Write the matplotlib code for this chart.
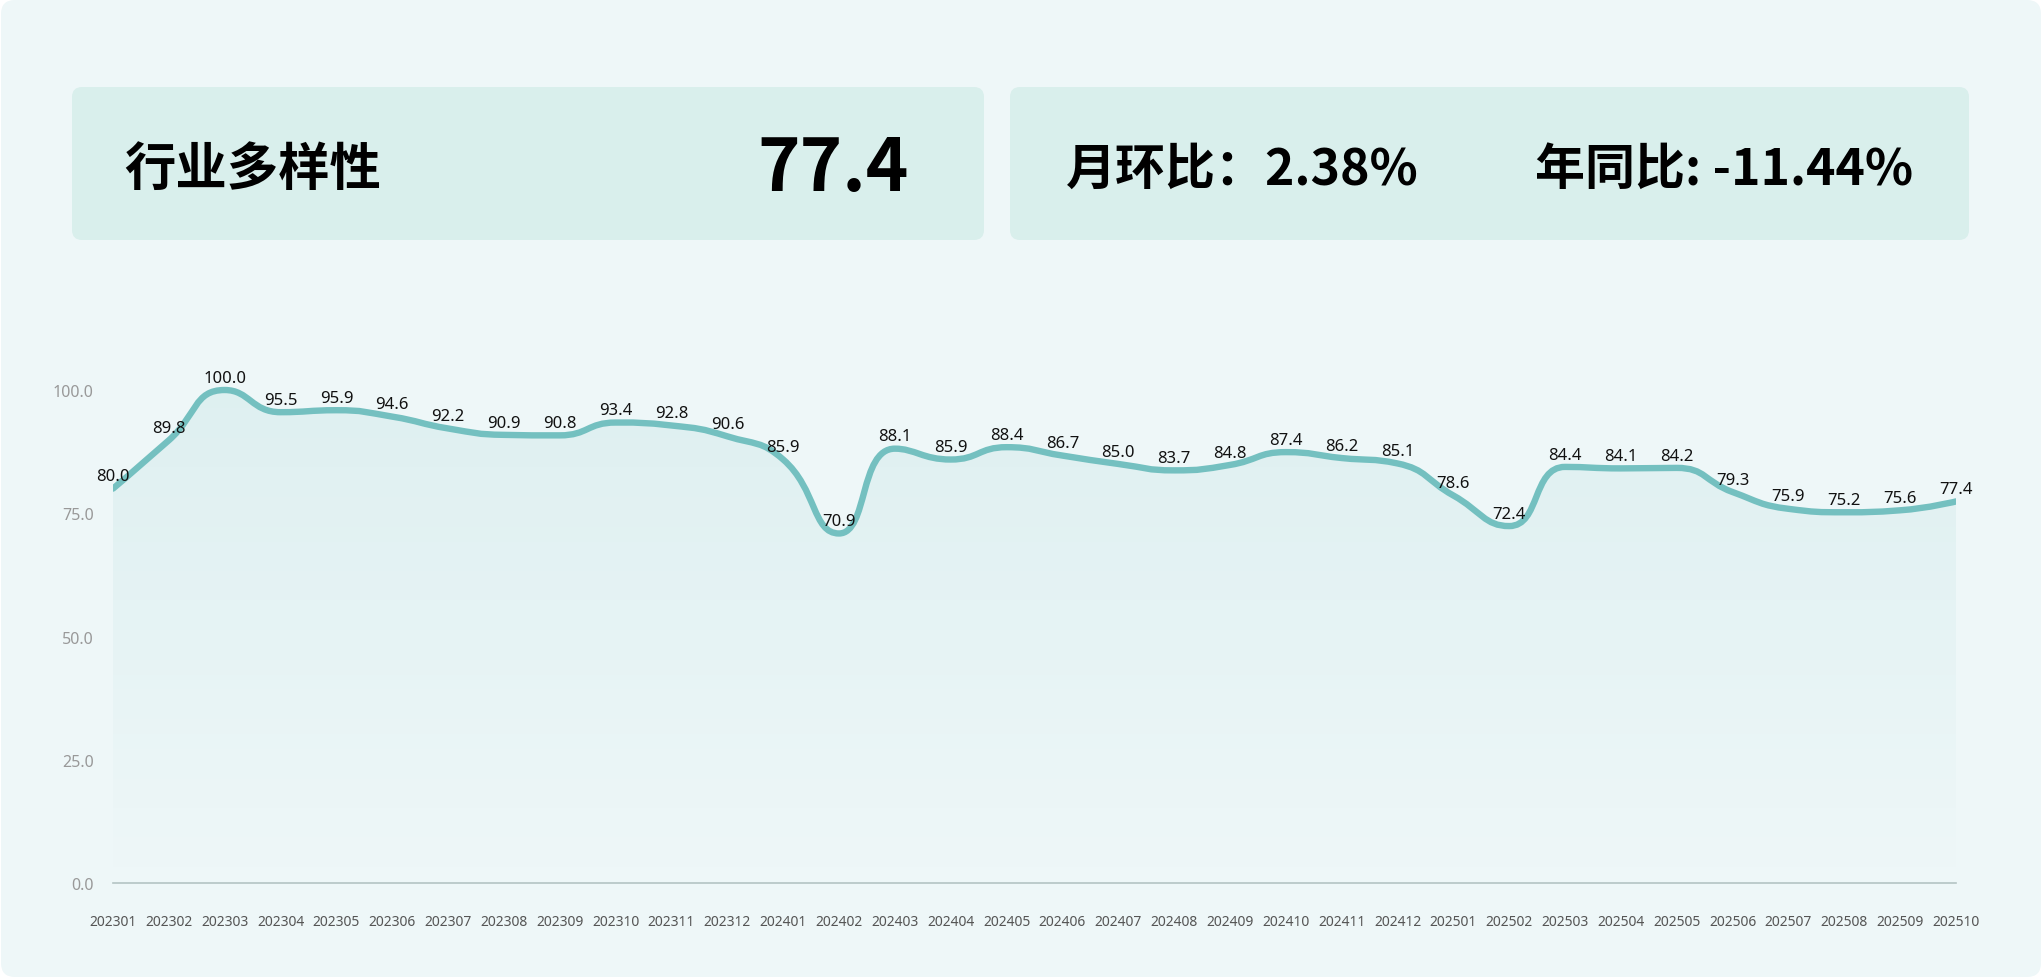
import numpy as np
import matplotlib
matplotlib.use("Agg")
import matplotlib.pyplot as plt
from matplotlib.patches import FancyBboxPatch, PathPatch
from matplotlib.path import Path
from matplotlib.colors import LinearSegmentedColormap

plt.rcParams['font.family'] = ['Noto Sans CJK SC', 'DejaVu Sans']
NUMFONT = ['Noto Sans', 'DejaVu Sans']

# 数据
months = ["202301", "202302", "202303", "202304", "202305", "202306", "202307", "202308",
          "202309", "202310", "202311", "202312", "202401", "202402", "202403", "202404",
          "202405", "202406", "202407", "202408", "202409", "202410", "202411", "202412",
          "202501", "202502", "202503", "202504", "202505", "202506", "202507", "202508",
          "202509", "202510"]
values = [80.0, 89.8, 100.0, 95.5, 95.9, 94.6, 92.2, 90.9, 90.8, 93.4, 92.8, 90.6,
          85.9, 70.9, 88.1, 85.9, 88.4, 86.7, 85.0, 83.7, 84.8, 87.4, 86.2, 85.1,
          78.6, 72.4, 84.4, 84.1, 84.2, 79.3, 75.9, 75.2, 75.6, 77.4]
yticks = [0, 25, 50, 75, 100]
title = "行业多样性"
current = "77.4"
mom = "月环比：2.38%"
yoy = "年同比: -11.44%"

W, H = 2042, 979
fig = plt.figure(figsize=(W / 100, H / 100), dpi=100)
fig.patch.set_facecolor("white")

BG = "#eef7f8"
CARD = "#d9efec"
LINE = "#74c0c0"


def rbox(x0, y0, x1, y1, r, color):
    # 像素坐标, y 从上往下
    p = FancyBboxPatch(((x0) / 100, (H - y1) / 100), (x1 - x0) / 100, (y1 - y0) / 100,
                       boxstyle=f"round,pad=0,rounding_size={r / 100}",
                       transform=fig.dpi_scale_trans, facecolor=color,
                       edgecolor="none", zorder=-2)
    fig.patches.append(p)


rbox(1, 1, 2041, 978, 14, BG)
rbox(72, 88, 984, 241, 10, CARD)
rbox(1010, 88, 1969, 241, 10, CARD)

by = 1 - 185 / H
fig.text(124 / W, by, title, fontsize=37, fontweight="heavy", va="baseline", ha="left")
fig.text(909 / W, 1 - 191 / H, current, fontsize=52, fontweight="heavy", va="baseline", ha="right")
fig.text(1066 / W, by, mom, fontsize=36, fontweight="heavy", va="baseline", ha="left")
fig.text(1535 / W, by, yoy, fontsize=36, fontweight="heavy", va="baseline", ha="left")

# 图表
ymax = 110
px_per = (884 - 391) / 100
top = 884 - ymax * px_per
ax = fig.add_axes([113 / W, (H - 884) / H, (1956 - 113) / W, (884 - top) / H])
ax.set_zorder(2)
ax.set_facecolor("none")
x = np.arange(len(values))
ax.set_xlim(0, len(values) - 1)
ax.set_ylim(0, ymax)

# echarts 风格平滑曲线 (在像素空间计算控制点)
pts = ax.transData.transform(np.column_stack([x, values]))
smooth = 0.5
verts = [tuple(pts[0])]
codes = [Path.MOVETO]
cp0 = pts[0].copy()
n = len(pts)
for i in range(1, n):
    px_, py_ = pts[i - 1]
    cx, cy = pts[i]
    if i + 1 < n:
        nx, ny = pts[i + 1]
        vx, vy = nx - px_, ny - py_
        l0 = np.hypot(cx - px_, cy - py_)
        l1 = np.hypot(nx - cx, ny - cy)
        ratio = l1 / (l0 + l1)
        ncx = cx + vx * smooth * ratio
        ncy = cy + vy * smooth * ratio
        ncx = max(min(ncx, max(nx, cx)), min(nx, cx))
        ncy = max(min(ncy, max(ny, cy)), min(ny, cy))
        vx, vy = ncx - cx, ncy - cy
        c1x = cx - vx * l0 / l1
        c1y = cy - vy * l0 / l1
        c1x = max(min(c1x, max(px_, cx)), min(px_, cx))
        c1y = max(min(c1y, max(py_, cy)), min(py_, cy))
        vx, vy = cx - c1x, cy - c1y
        ncx = cx + vx * l1 / l0
        ncy = cy + vy * l1 / l0
    else:
        c1x, c1y = cx, cy
        ncx, ncy = cx, cy
    verts += [tuple(cp0), (c1x, c1y), (cx, cy)]
    codes += [Path.CURVE4] * 3
    cp0 = np.array([ncx, ncy])

inv = ax.transData.inverted()
dverts = inv.transform(np.array(verts))
curve = Path(dverts, codes)

# 渐变面积
area_verts = np.vstack([dverts, [[x[-1], 0], [x[0], 0], dverts[0]]])
area_codes = codes + [Path.LINETO, Path.LINETO, Path.CLOSEPOLY]
area = PathPatch(Path(area_verts, area_codes), facecolor="none", edgecolor="none")
ax.add_patch(area)
cmap = LinearSegmentedColormap.from_list("g", [(0.455, 0.753, 0.753, 0.0),
                                               (0.455, 0.753, 0.753, 0.13)])
grad = np.linspace(0, 1, 256).reshape(-1, 1)
im = ax.imshow(grad, cmap=cmap, origin="lower", aspect="auto",
               extent=[x[0], x[-1], 0, max(values)], zorder=1)
im.set_clip_path(area)

ax.add_patch(PathPatch(curve, facecolor="none", edgecolor=LINE, lw=4.6,
                       capstyle="round", joinstyle="round", zorder=3))

for xi, v in zip(x, values):
    ax.annotate(f"{v:.1f}", (xi, v), xytext=(0, 6), textcoords="offset points",
                ha="center", va="baseline", fontsize=12, color="#111111",
                family=NUMFONT, zorder=4)

ax.set_yticks(yticks)
ax.set_yticklabels([f"{t:.1f}" for t in yticks], family=NUMFONT)
ax.set_xticks(x)
ax.set_xticklabels(months, family=NUMFONT)
ax.tick_params(axis="y", length=0, pad=14, labelsize=11.5, labelcolor="#999999")
ax.tick_params(axis="x", length=0, pad=22, labelsize=10, labelcolor="#555555")
for s in ["top", "right", "left"]:
    ax.spines[s].set_visible(False)
ax.spines["bottom"].set_color("#b4c4c4")
ax.spines["bottom"].set_linewidth(1.2)

fig.savefig("out.png", dpi=100, facecolor=fig.get_facecolor())
